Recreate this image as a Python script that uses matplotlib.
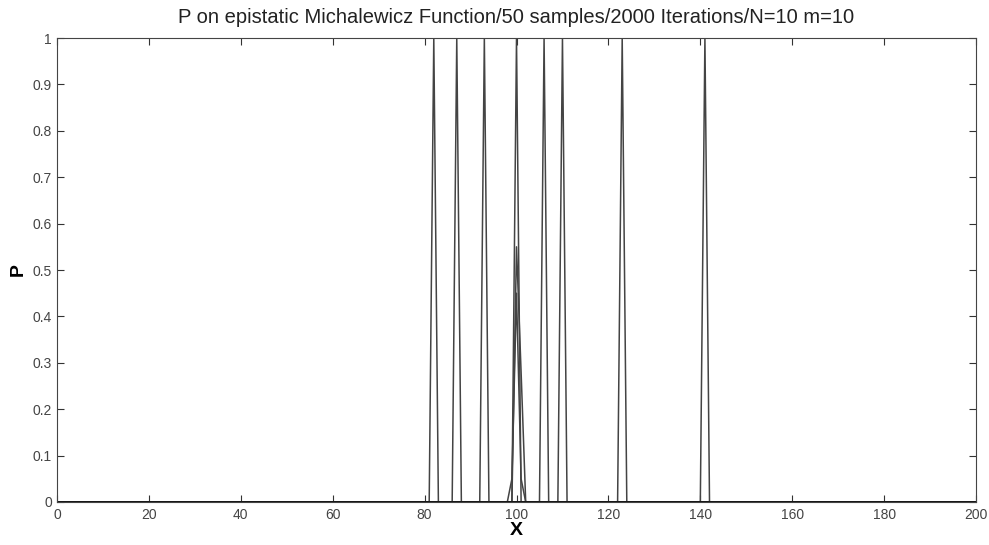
import numpy as np
import matplotlib.pyplot as plt

# grid of candidate positions
x_min, x_max = 0, 200

# one curve per dimension: {position: probability}
curves = [
    {82: 1.0},
    {87: 1.0},
    {93: 1.0},
    {100: 1.0},
    {106: 1.0},
    {110: 1.0},
    {123: 1.0},
    {141: 1.0},
    {100: 0.55, 101: 0.28},
    {99: 0.05, 100: 0.45, 101: 0.05},
]

title = "P on epistatic Michalewicz Function/50 samples/2000 Iterations/N=10 m=10"


def main() -> None:
    plt.rcParams["font.family"] = ["Liberation Sans", "DejaVu Sans"]
    fig = plt.figure(figsize=(9.89, 5.45), dpi=100)
    ax = fig.add_axes([0.0576, 0.0789, 0.9293, 0.8513])
    x = np.arange(x_min, x_max + 1)
    for c in curves:
        p = np.zeros_like(x, dtype=float)
        for k, v in c.items():
            p[x == k] = v
        ax.plot(x, p, color="#444444", lw=1.1)
    ax.axhline(0, color="#111111", lw=2.0)
    ax.set_xlim(x_min, x_max)
    ax.set_ylim(0, 1)
    ax.set_xticks(np.arange(0, 201, 20))
    ax.set_yticks(np.round(np.arange(0, 1.01, 0.1), 1))
    ax.set_yticklabels(["0"] + [f"{v:.1f}" for v in np.arange(0.1, 0.95, 0.1)] + ["1"])
    ax.tick_params(direction="in", top=True, right=True, length=5, width=0.8,
                   labelsize=10, colors="#333333", labelcolor="#444444")
    ax.tick_params(axis="x", pad=4)
    for s in ax.spines.values():
        s.set_color("#444444")
        s.set_linewidth(0.8)
    ax.set_title(title, fontsize=14.5, color="#222222", pad=11)
    ax.set_xlabel("X", fontsize=14, fontweight="bold", labelpad=0)
    ax.set_ylabel("P", fontsize=14, fontweight="bold", labelpad=4)
    fig.savefig("out.png", dpi=100)
    plt.close(fig)


if __name__ == "__main__":
    main()
